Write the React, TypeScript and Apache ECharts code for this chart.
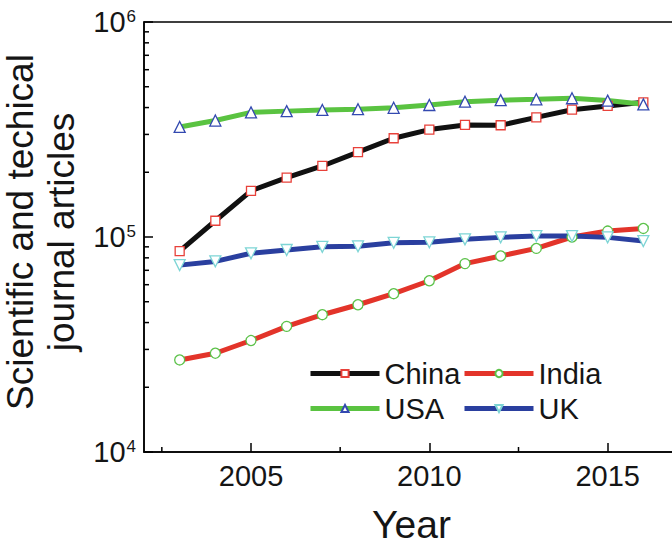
import React, { useEffect, useRef } from "react";
import * as echarts from "echarts";

const years = [2003, 2004, 2005, 2006, 2007, 2008, 2009, 2010, 2011, 2012, 2013, 2014, 2015, 2016];
const china = [86000, 119000, 164000, 189000, 214000, 248000, 288000, 316000, 332000, 331000, 360000, 391000, 407000, 423000];
const india = [26800, 28800, 33000, 38400, 43500, 48400, 54500, 62600, 75200, 81600, 88500, 100000, 106600, 109600];
const usa = [325000, 348000, 380000, 385000, 390000, 393000, 399000, 411000, 426000, 433000, 437000, 442000, 431000, 414000];
const uk = [74000, 77000, 84000, 87000, 90000, 90500, 94000, 94500, 97500, 99600, 101000, 101000, 99600, 95700];

const xMajorTicks = [2005, 2010, 2015];
const xMinorTicks = [2002.5, 2007.5, 2012.5];
const yMinorTicks = [2e4, 3e4, 4e4, 5e4, 6e4, 7e4, 8e4, 9e4, 2e5, 3e5, 4e5, 5e5, 6e5, 7e5, 8e5, 9e5];

const X_MIN = 2002;
const X_MAX = 2017;
const Y_MIN = 1e4;
const Y_MAX = 1e6;

const FONT = "'Liberation Sans', Arial, sans-serif";
const TXT = "#151515";

export default function App() {
  const ref = useRef<HTMLDivElement>(null);
  useEffect(() => {
    if (!ref.current) return;
    const chart = echarts.init(ref.current, undefined, { renderer: "svg" });
    const pair = (arr: number[]) => years.map((y, i) => [y, arr[i]]);
    const lineSeries = (name: string, data: number[], lineColor: string, symbol: string, symColor: string, size: number, rotate = 0) => ({
      name,
      type: "line",
      data: pair(data),
      symbol,
      symbolSize: size,
      symbolRotate: rotate,
      showAllSymbol: true,
      lineStyle: { color: lineColor, width: 5 },
      itemStyle: { color: "#ffffff", borderColor: symColor, borderWidth: 1.3 },
      emphasis: { disabled: true },
      z: 3,
    });
    const legendBase = {
      orient: "vertical",
      top: 359,
      padding: 0,
      itemWidth: 69,
      itemHeight: 9,
      itemGap: 6,
      lineStyle: { width: 5 },
      textStyle: { fontSize: 29, fontFamily: FONT, color: TXT },
    };
    chart.setOption({
      animation: false,
      textStyle: { fontFamily: FONT, color: TXT },
      grid: {
        left: 144,
        top: 22,
        right: 21,
        bottom: 93,
        outerBoundsMode: "none",
        containLabel: false,
        show: true,
        borderColor: "#000",
        borderWidth: 1.5,
        backgroundColor: "transparent",
      },
      legend: [
        { ...legendBase, data: ["China", "USA"], left: 308 },
        { ...legendBase, data: ["India", "UK"], left: 462 },
      ],
      xAxis: {
        type: "value",
        min: X_MIN,
        max: X_MAX,
        name: "Year",
        nameLocation: "middle",
        nameGap: 53,
        nameTextStyle: { fontSize: 39, fontFamily: FONT, color: TXT },
        axisLine: { show: true, lineStyle: { color: "#000", width: 1.5 } },
        axisTick: { show: true, inside: true, length: 9, customValues: xMajorTicks, lineStyle: { color: "#000", width: 1.5 } },
        axisLabel: {
          show: true,
          customValues: xMajorTicks,
          formatter: (v: number) => String(v),
          fontSize: 29,
          margin: 9,
          color: TXT,
          fontFamily: FONT,
        },
        splitLine: { show: false },
      },
      yAxis: {
        type: "log",
        logBase: 10,
        min: Y_MIN,
        max: Y_MAX,
        name: "Scientific and techical\njournal articles",
        nameLocation: "middle",
        nameRotate: 90,
        nameGap: 62,
        nameTextStyle: { fontSize: 37, lineHeight: 41, fontFamily: FONT, color: TXT, padding: [0, 0, 0, 10] },
        axisLine: { show: true, lineStyle: { color: "#000", width: 1.5 } },
        axisTick: { show: true, inside: true, length: 9, lineStyle: { color: "#000", width: 1.5 } },
        axisLabel: {
          show: true,
          margin: 8,
          formatter: (v: number) => `{b|10}{s|${Math.round(Math.log10(v))}}`,
          rich: {
            b: { fontSize: 29, fontFamily: FONT, color: TXT, lineHeight: 29 },
            s: { fontSize: 17, fontFamily: FONT, color: TXT, verticalAlign: "top", lineHeight: 17, padding: [0, 0, 20, 1] },
          },
        },
        splitLine: { show: false },
      },
      series: [
        lineSeries("China", china, "#111111", "rect", "#e8413a", 9),
        lineSeries("India", india, "#e3342a", "circle", "#5cc24a", 10),
        lineSeries("USA", usa, "#5ac341", "triangle", "#3349b0", 11),
        lineSeries("UK", uk, "#2a3f9f", "triangle", "#7dd5d5", 11, 180),
        {
          type: "custom",
          name: "yMinor",
          silent: true,
          clip: false,
          z: 5,
          data: yMinorTicks.map((v) => [X_MIN, v]),
          renderItem: (params: any, api: any) => {
            const p = api.coord([api.value(0), api.value(1)]);
            return {
              type: "line",
              shape: { x1: p[0], y1: p[1], x2: p[0] + 5, y2: p[1] },
              style: { stroke: "#000", lineWidth: 1.5 },
            };
          },
        },
        {
          type: "custom",
          name: "xMinor",
          silent: true,
          clip: false,
          z: 5,
          data: xMinorTicks.map((v) => [v, Y_MIN]),
          renderItem: (params: any, api: any) => {
            const p = api.coord([api.value(0), api.value(1)]);
            return {
              type: "line",
              shape: { x1: p[0], y1: p[1], x2: p[0], y2: p[1] - 5 },
              style: { stroke: "#000", lineWidth: 1.5 },
            };
          },
        },
      ],
    });
    return () => chart.dispose();
  }, []);
  return (
    <div style={{ position: "fixed", left: 0, top: 0, width: 672, height: 545, overflow: "hidden", background: "#fff" }}>
      <div ref={ref} style={{ width: 700, height: 545 }} />
    </div>
  );
}
